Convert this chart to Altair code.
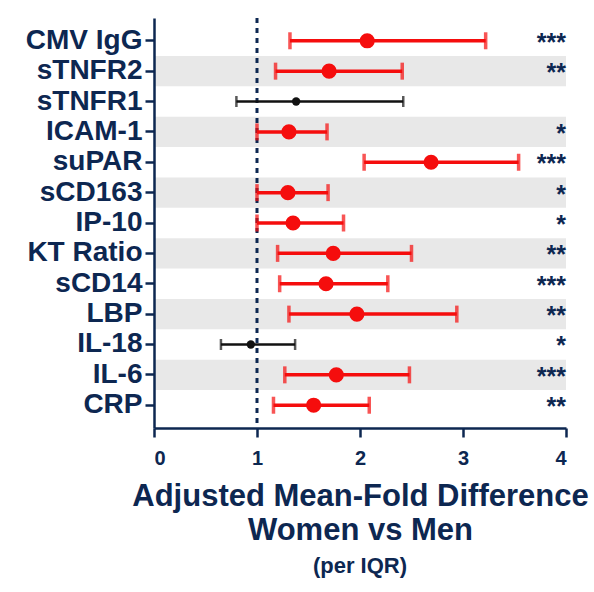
import altair as alt
import pandas as pd

markers = ["CMV IgG", "sTNFR2", "sTNFR1", "ICAM-1", "suPAR", "sCD163", "IP-10",
           "KT Ratio", "sCD14", "LBP", "IL-18", "IL-6", "CRP"]
estimate = [2.07, 1.70, 1.38, 1.31, 2.69, 1.30, 1.35, 1.74, 1.67, 1.97, 0.94, 1.77, 1.55]
lower = [1.32, 1.18, 0.80, 1.00, 2.04, 1.00, 1.00, 1.20, 1.22, 1.31, 0.65, 1.27, 1.16]
upper = [3.22, 2.41, 2.42, 1.68, 3.54, 1.69, 1.84, 2.50, 2.27, 2.94, 1.37, 2.48, 2.09]
stars = ["***", "**", "", "*", "***", "*", "*", "**", "***", "**", "*", "***", "**"]
significant = ["yes", "yes", "no", "yes", "yes", "yes", "yes", "yes", "yes", "yes", "no", "yes", "yes"]
shaded = [i % 2 == 1 for i in range(len(markers))]
reference_line = [1]
x_ticks = [0, 1, 2, 3, 4]

NAVY = "#0d2751"
RED = "#f50d0d"
FONT = "Liberation Sans"

df = pd.DataFrame({
    "marker": markers, "est": estimate, "lo": lower, "hi": upper,
    "stars": stars, "sig": significant, "shaded": shaded,
})

W, H = 412, 410

yenc = alt.Y("marker:N", sort=markers,
             scale=alt.Scale(paddingInner=0, paddingOuter=0.25),
             axis=alt.Axis(title=None, labelFontSize=28, labelFont=FONT,
                           labelFontWeight="bold", labelColor=NAVY,
                           tickColor=NAVY, tickWidth=2.5, tickSize=9,
                           domainColor=NAVY, domainWidth=2.5, labelPadding=3))
xscale = alt.Scale(domain=[0, 4], nice=False, zero=True)
xaxis = alt.Axis(values=x_ticks, format="d", grid=False,
                 title=["Adjusted Mean-Fold Difference", "Women vs Men"],
                 titleFontSize=31, titleFont=FONT, titleFontWeight="bold",
                 titleColor=NAVY, titleLineHeight=34, titlePadding=13,
                 labelFontSize=20, labelFont=FONT, labelFontWeight="bold",
                 labelColor=NAVY, labelPadding=11, tickColor=NAVY, tickWidth=2.5,
                 tickSize=9, domainColor=NAVY, domainWidth=2.5)

base = alt.Chart(df)

bands = base.transform_filter("datum.shaded").mark_rect(color="#e8e8e8").encode(
    y=yenc, x=alt.datum(0, scale=xscale, axis=xaxis), x2=alt.datum(4))

ref = alt.Chart(pd.DataFrame({"v": reference_line})).mark_rule(
    color=NAVY, strokeWidth=3, strokeDash=[5, 5]).encode(
    x=alt.X("v:Q", scale=xscale, axis=xaxis))

def series(flag, color, lw, cap, pt):
    b = base.transform_filter(alt.datum.sig == flag)
    rule = b.mark_rule(color=color, strokeWidth=lw).encode(
        y=yenc, x=alt.X("lo:Q", scale=xscale, axis=xaxis), x2="hi:Q")
    t1 = b.mark_tick(color=color, thickness=lw, size=cap, orient="vertical").encode(
        y=yenc, x=alt.X("lo:Q", scale=xscale, axis=xaxis))
    t2 = b.mark_tick(color=color, thickness=lw, size=cap, orient="vertical").encode(
        y=yenc, x=alt.X("hi:Q", scale=xscale, axis=xaxis))
    pts = b.mark_circle(color=color, opacity=1, size=pt).encode(
        y=yenc, x=alt.X("est:Q", scale=xscale, axis=xaxis))
    return [rule, t1, t2, pts]

txt = base.mark_text(align="right", baseline="middle", dy=2, fontSize=25,
                     font=FONT, fontWeight="bold", color=NAVY).encode(
    y=yenc, x=alt.datum(4, scale=xscale), text="stars:N")

chart = alt.layer(bands, ref, *series("no", "#111111", 2.5, 11, 70),
                  *series("yes", RED, 3.5, 17, 230), txt).properties(
    width=W, height=H,
    title=alt.TitleParams("(per IQR)", orient="bottom", fontSize=22, font=FONT,
                          fontWeight="bold", color=NAVY, offset=11, anchor="middle"),
    autosize=alt.AutoSizeParams(type="none"),
    padding={"left": 154, "top": 18, "right": 28, "bottom": 164},
    background="white",
).configure_view(stroke=None)

chart.save("out.html", embed_options={"renderer": "svg", "actions": False})
